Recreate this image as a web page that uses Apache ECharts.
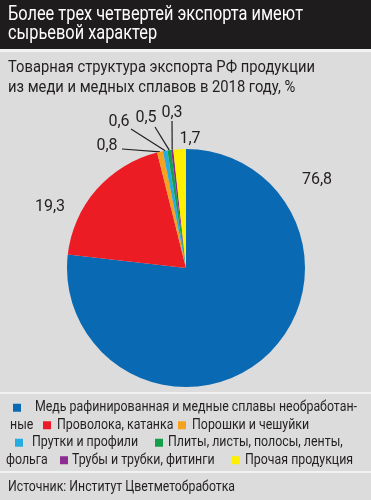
<!DOCTYPE html>
<html><head><meta charset="utf-8">
<script src="https://cdn.jsdelivr.net/npm/echarts@6/dist/echarts.min.js"></script>
<style>html,body{margin:0;padding:0;background:#dcdcdc}#c{width:371px;height:500px}</style>
</head><body><div id="c"></div>
<script>
// ---- data ----
const titleLines = ['Более трех четвертей экспорта имеют', 'сырьевой характер'];
const subtitleLines = ['Товарная структура экспорта РФ продукции', 'из меди и медных сплавов в 2018 году, %'];
const categories = [
  'Медь рафинированная и медные сплавы необработанные',
  'Проволока, катанка',
  'Порошки и чешуйки',
  'Прутки и профили',
  'Плиты, листы, полосы, ленты, фольга',
  'Трубы и трубки, фитинги',
  'Прочая продукция'
];
const values = [76.8, 19.3, 0.8, 0.6, 0.5, 0.3, 1.7];
const sourceText = 'Источник: Институт Цветметобработка';

// ---- styles ----
const colors = ['#0a69b3', '#ec1c24', '#f6a21c', '#27ace2', '#14a04b', '#8c2c8e', '#fff000'];
const FONT = 'Roboto, "Noto Sans", sans-serif';
const TXT = '#231f20';

// label placement (layout only): [labelX, labelY, lineEndX, lineEndY or null]
const labelPlace = [
  [317, 180, null, null],
  [50, 207, null, null],
  [107, 146, 122, 149],
  [119, 122, 131, 129],
  [146, 118, 155, 127],
  [172, 113, 172, 121],
  [190, 139, null, null]
];

const fmt = v => String(v).replace('.', ',');
const mctx = document.createElement('canvas').getContext('2d');
function mw(text, font) { mctx.font = font; return mctx.measureText(text).width; }

// condensed look: scale texts horizontally to the reference widths
const fTitle = '20px ' + FONT, fSub = '16px ' + FONT, fLeg = '14px ' + FONT;
const kTitle = 295 / mw(titleLines[0], fTitle);
const kSub = 307 / mw(subtitleLines[0], fSub);
const kSrc = 227 / mw(sourceText, fLeg);

// legend text split as in the original (hyphenated wrap)
const c0a = categories[0].replace('необработанные', 'необработан-');
const c0b = 'ные';
const c4a = 'Плиты, листы, полосы, ленты,';
const c4b = 'фольга';
const kLeg = (112 + 118 + 108 + 172 + 150 + 105) /
  [categories[1], categories[2], categories[3], c4a, categories[5], categories[6]]
    .reduce((s, t) => s + mw(t, fLeg), 0);

// legend rows: ['s', colorIndex, x] square, ['t', text, x, justifyEnd?] text run
const legendRows = [
  [['s', 0, 13], ['t', c0a, 35, 357]],
  [['t', c0b, 10], ['s', 1, 43], ['t', categories[1], 57], ['s', 2, 178], ['t', categories[2], 192]],
  [['s', 3, 15], ['t', categories[3], 32], ['s', 4, 155], ['t', c4a, 168]],
  [['t', c4b, 6], ['s', 5, 60], ['t', categories[5], 72], ['s', 6, 232], ['t', categories[6], 245]]
];
const rich = {};
colors.forEach((c, i) => { rich['s' + i] = { width: 8 / kLeg, height: 8, backgroundColor: c }; });
let gid = 0;
function gap(px) { const n = 'g' + (gid++); rich[n] = { width: Math.max(0, px) / kLeg }; return '{' + n + '|}'; }
const legendText = legendRows.map(row => {
  let cur = 0, out = '';
  row.forEach(r => {
    out += gap(r[2] - cur);
    cur = r[2];
    if (r[0] === 's') { out += '{s' + r[1] + '|}'; cur += 8; }
    else if (r[3]) {
      const words = r[1].split(' ');
      const wsum = words.reduce((s, w) => s + mw(w, fLeg) * kLeg, 0);
      const g = (r[3] - r[2] - wsum) / (words.length - 1);
      words.forEach((w, i) => { if (i) out += gap(g); out += w; });
      cur = r[3];
    } else { out += r[1]; cur += mw(r[1], fLeg) * kLeg; }
  });
  return out;
}).join('\n');

const chart = echarts.init(document.getElementById('c'));
chart.setOption({
  backgroundColor: '#dcdcdc',
  animation: false,
  graphic: [
    { type: 'rect', shape: { x: 0, y: 0, width: 371, height: 49 }, style: { fill: '#1e1c1d' } },
    { type: 'rect', shape: { x: 0, y: 49, width: 371, height: 3 }, style: { fill: '#f2f2f2' } },
    { type: 'rect', shape: { x: 0, y: 392, width: 371, height: 2 }, style: { fill: '#f2f2f2' } },
    { type: 'rect', shape: { x: 0, y: 471, width: 371, height: 2 }, style: { fill: '#f2f2f2' } },
    { type: 'text', x: 8, y: 15, scaleX: kTitle, style: { text: titleLines[0], fill: '#fff', font: fTitle, verticalAlign: 'middle' } },
    { type: 'text', x: 8, y: 34, scaleX: kTitle, style: { text: titleLines[1], fill: '#fff', font: fTitle, verticalAlign: 'middle' } },
    { type: 'text', x: 8, y: 68, scaleX: kSub, style: { text: subtitleLines[0], fill: TXT, font: fSub, verticalAlign: 'middle' } },
    { type: 'text', x: 8, y: 88, scaleX: kSub, style: { text: subtitleLines[1], fill: TXT, font: fSub, verticalAlign: 'middle' } },
    { type: 'text', x: 0, y: 399, scaleX: kLeg, style: { text: legendText, rich: rich, fill: TXT, font: fLeg, lineHeight: 17.5, verticalAlign: 'top' } },
    { type: 'text', x: 8, y: 487, scaleX: kSrc, style: { text: sourceText, fill: TXT, font: fLeg, verticalAlign: 'middle' } }
  ],
  series: [{
    type: 'pie',
    center: [186, 268],
    radius: [0, 119],
    startAngle: 90,
    clockwise: true,
    silent: true,
    data: values.map((v, i) => ({
      name: categories[i],
      value: v,
      itemStyle: { color: colors[i] },
      labelLine: { show: labelPlace[i][2] !== null }
    })),
    label: {
      show: true,
      position: 'outside',
      formatter: p => fmt(p.value),
      color: TXT,
      fontFamily: FONT,
      fontSize: 16
    },
    labelLine: { show: true, length: 10, length2: 10, lineStyle: { color: '#231f20', width: 1.2 } },
    labelLayout: function (params) {
      const lp = labelPlace[params.dataIndex];
      const res = { x: lp[0], y: lp[1], align: 'center', verticalAlign: 'middle' };
      if (lp[2] !== null && params.labelLinePoints) {
        const e = params.labelLinePoints[0];
        res.labelLinePoints = [[lp[2], lp[3]], [e[0], e[1]]];
      }
      return res;
    }
  }]
});
</script></body></html>
